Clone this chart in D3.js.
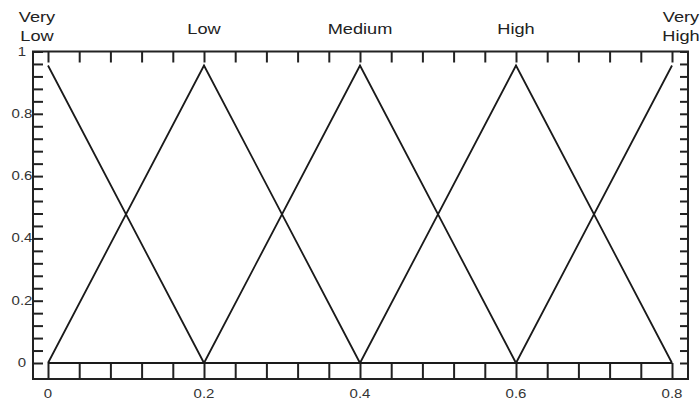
<!DOCTYPE html>
<html>
<head>
<meta charset="utf-8">
<script src="https://cdn.jsdelivr.net/npm/d3@7"></script>
<style>
  body { margin: 0; background: #fff; }
  text { font-family: "Liberation Sans", Arial, sans-serif; fill: #222; }
</style>
</head>
<body>
<div id="chart"></div>
<script>
const width = 700;
const height = 401;

// breakpoints on the x axis and the membership value of each set there
const breakpoints = [0, 0.2, 0.4, 0.6, 0.8];
const setNames = ["Very Low", "Low", "Medium", "High", "Very High"];
const veryLow = [0.955, 0, 0, 0, 0];
const low = [0, 0.955, 0, 0, 0];
const medium = [0, 0, 0.955, 0, 0];
const high = [0, 0, 0, 0.955, 0];
const veryHigh = [0, 0, 0, 0, 0.955];
const series = [veryLow, low, medium, high, veryHigh];

const xMinorTicks = d3.range(0, 21).map(i => i * 0.04);
const yMinorTicks = d3.range(0, 26).map(i => i * 0.04);
const xTickLabels = [0, 0.2, 0.4, 0.6, 0.8];
const yTickLabels = [0, 0.2, 0.4, 0.6, 0.8, 1];

const frame = {left: 33, right: 688, top: 51.5, bottom: 379};

let x = d3.scaleLinear().domain([0, 0.8]).range([48, 672]);
let y = d3.scaleLinear().domain([0, 1]).range([363, 51.5]);

const svg = d3.select("#chart")
    .append("svg")
    .attr("width", width)
    .attr("height", height);

// tick marks, all pointing inward
const tickStyle = g => {
    g.select(".domain").remove();
    g.selectAll(".tick line").attr("stroke", "#222").attr("stroke-width", 2);
    g.selectAll(".tick text").remove();
};

svg.append("g")
    .attr("transform", "translate(0," + frame.bottom + ")")
    .call(d3.axisTop(x).tickValues(xMinorTicks).tickSize(frame.bottom - y(0)))
    .call(tickStyle);

svg.append("g")
    .attr("transform", "translate(0," + frame.top + ")")
    .call(d3.axisBottom(x).tickValues(xMinorTicks).tickSize(11))
    .call(tickStyle);

svg.append("g")
    .attr("transform", "translate(" + frame.left + ",0)")
    .call(d3.axisRight(y).tickValues(yMinorTicks).tickSize(10))
    .call(tickStyle);

svg.append("g")
    .attr("transform", "translate(" + frame.right + ",0)")
    .call(d3.axisLeft(y).tickValues(yMinorTicks).tickSize(8))
    .call(tickStyle);

// frame
svg.append("rect")
    .attr("x", frame.left)
    .attr("y", frame.top)
    .attr("width", frame.right - frame.left)
    .attr("height", frame.bottom - frame.top)
    .attr("fill", "none")
    .attr("stroke", "#222")
    .attr("stroke-width", 2);

// membership functions
const line = d3.line()
    .x((d, i) => x(breakpoints[i]))
    .y(d => y(d));

svg.selectAll(".mf")
    .data(series)
    .enter().append("path")
    .attr("class", "mf")
    .attr("d", line)
    .attr("fill", "none")
    .attr("stroke", "#1a1a1a")
    .attr("stroke-width", 1.8);

// tick labels (the picture is stretched sideways)
svg.selectAll(".xlab")
    .data(xTickLabels)
    .enter().append("text")
    .attr("class", "xlab")
    .attr("transform", d => "translate(" + x(d) + ",398) scale(1.25,1)")
    .attr("text-anchor", "middle")
    .style("font-size", "12px")
    .style("fill", "#333")
    .text(d => d3.format("")(d));

svg.selectAll(".ylab")
    .data(yTickLabels)
    .enter().append("text")
    .attr("class", "ylab")
    .attr("transform", d => "translate(22," + (y(d) + 4) + ") scale(1.25,1)")
    .attr("text-anchor", "middle")
    .style("font-size", "12px")
    .style("fill", "#333")
    .text(d => d3.format("")(d));

// set names along the top
const nameOffset = [-11, 0, 0, 0, 9];
svg.selectAll(".setname")
    .data(setNames)
    .enter().append("text")
    .attr("class", "setname")
    .attr("transform", (d, i) => {
        const lines = d.split(" ");
        const yy = lines.length > 1 ? 22 : 34;
        return "translate(" + (x(breakpoints[i]) + nameOffset[i]) + "," + yy + ") scale(1.3,1)";
    })
    .attr("text-anchor", "middle")
    .style("font-size", "14px")
    .each(function (d) {
        const lines = d.split(" ");
        const t = d3.select(this);
        if (lines.length === 1) {
            t.text(d);
        } else {
            lines.forEach((w, k) => {
                t.append("tspan").attr("x", 0).attr("dy", k === 0 ? 0 : 19).text(w);
            });
        }
    });
</script>
</body>
</html>
